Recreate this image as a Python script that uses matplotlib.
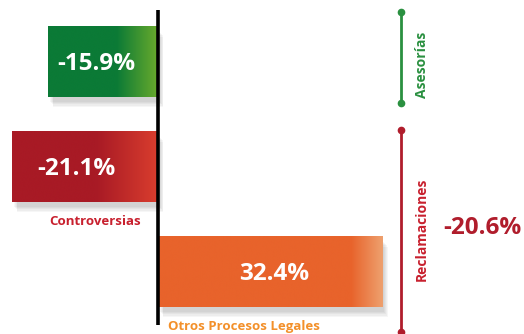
import numpy as np
import matplotlib.pyplot as plt
from matplotlib.colors import LinearSegmentedColormap
from matplotlib.patches import Rectangle

# Données
categories = ["Asesorías", "Controversias", "Otros Procesos Legales"]
values = [-15.9, -21.1, 32.4]
groupe_nom = "Reclamaciones"
groupe_valeur = -20.6

# couleurs : (plein, fin du dégradé)
couleurs_barres = [("#0b7a36", "#6bab2c"), ("#a81a25", "#d93d2e"), ("#e8632b", "#eea06e")]
debut_degrade = [0.62, 0.58, 0.86]
couleurs_labels = ["#2a9040", "#c8202e", "#f3902a"]

plt.rcParams['font.family'] = ['Open Sans', 'DejaVu Sans']

fig = plt.figure(figsize=(5.24, 3.34), dpi=100)
ax = fig.add_axes([0, 0, 1, 1])
ax.axis("off")

h = 0.67
for i, (cat, val) in enumerate(zip(categories, values)):
    x0, x1 = min(0, val), max(0, val)
    # ombre portée
    for k in range(5):
        ax.add_patch(Rectangle((x0 + 0.3 + k * 0.12, i - h / 2 + 0.05 + k * 0.012), x1 - x0, h,
                               facecolor="black", alpha=0.035, edgecolor="none", zorder=1))
    c0, c1 = couleurs_barres[i]
    f = debut_degrade[i]
    cmap = LinearSegmentedColormap.from_list("g%d" % i, [(0, c0), (f, c0), (1, c1)])
    grad = np.linspace(0, 1, 256).reshape(1, -1)
    ax.imshow(grad, cmap=cmap, aspect="auto", extent=[x0, x1, i + h / 2, i - h / 2],
              zorder=2, interpolation="bicubic")
    pos = val * (0.56 if val < 0 else 0.52)
    ax.text(pos, i + 0.02, f"{val:.1f}%", color="white", fontsize=17.5, fontweight="bold",
            ha="center", va="center", zorder=3)

ax.set_xlim(-22.83, 52.9)
ax.set_ylim(2.595, -0.586)

# étiquettes sous les barres
ax.text(-2.4, 1 + 0.52, categories[1], color=couleurs_labels[1], fontsize=9.5,
        ha="right", va="center", fontweight="bold")
ax.text(1.4, 2 + 0.52, categories[2], color=couleurs_labels[2], fontsize=9.5,
        ha="left", va="center", fontweight="bold")

# ligne zéro
ax.plot([0, 0], [-0.49, 2.51], color="black", lw=2.6, zorder=4, solid_capstyle="butt")

# accolades à droite
xb = 35.1
ax.plot([xb, xb], [-0.47, 0.395], color="#2a9040", lw=2, marker="o", markersize=4.5, zorder=4)
ax.text(xb + 3.0, 0.03, categories[0], color=couleurs_labels[0], fontsize=10, rotation=90,
        ha="center", va="center", fontweight="bold")
ax.plot([xb, xb], [0.652, 2.576], color="#b01d2c", lw=2, marker="o", markersize=4.5, zorder=4)
ax.text(xb + 3.0, 1.6, groupe_nom, color=couleurs_labels[1], fontsize=10, rotation=90,
        ha="center", va="center", fontweight="bold")
ax.text(46.9, 1.585, f"{groupe_valeur:.1f}%", color="#b01d2c", fontsize=17.5,
        fontweight="bold", ha="center", va="center")

fig.savefig("out.png", dpi=100)
